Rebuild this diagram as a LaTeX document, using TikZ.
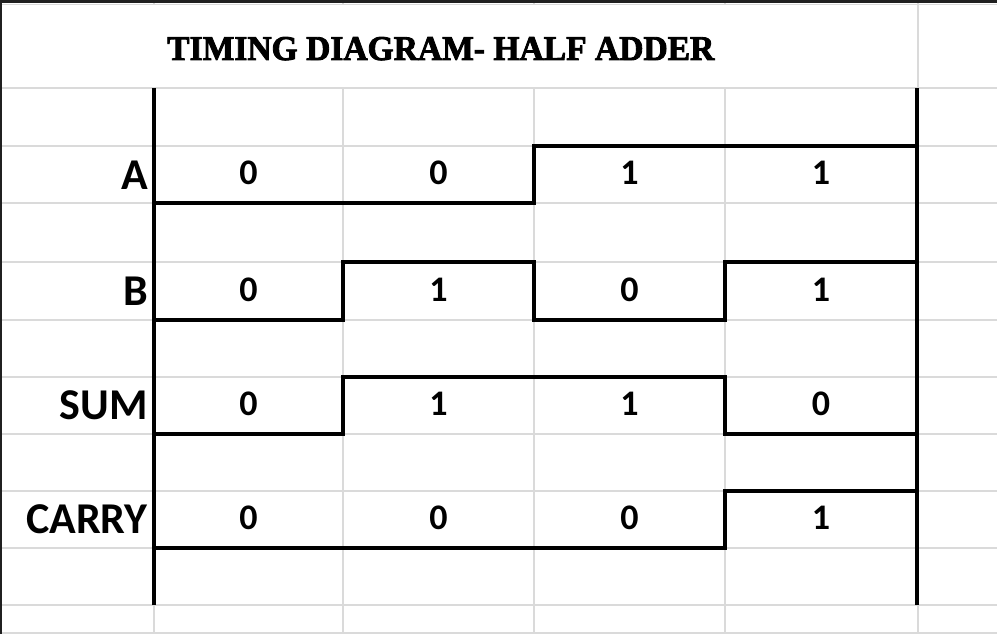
\documentclass[tikz,border=0pt]{standalone}
\usepackage{fontspec}
\setmainfont{Carlito}
\newfontfamily\titlefont{Liberation Serif}[FakeBold=2.5]
\definecolor{gridc}{RGB}{218,218,218}
\definecolor{edgec}{RGB}{32,32,32}
\tikzset{
  gridline/.style={draw=gridc, line width=1.2pt},
  wave/.style={draw=black, line width=3.2pt, line cap=rect, line join=miter},
  axisline/.style={draw=black, line width=3.2pt},
  sig/.style={anchor=base east, inner sep=0pt, font=\fontsize{44}{44}\selectfont\bfseries},
  bit/.style={anchor=base, inner sep=0pt, font=\fontsize{36}{36}\selectfont\bfseries}
}
\begin{document}
\begin{tikzpicture}[x=1pt,y=-1pt]
\useasboundingbox (0,0) rectangle (997,634);
\fill[white] (0,0) rectangle (997,634);
% spreadsheet grid
\foreach \yy in {88,146,203,262,320,377,434,491,548,605,633}
  \draw[gridline] (0,\yy) -- (997,\yy);
\draw[gridline] (0,4.5) -- (997,4.5);
\foreach \xx in {154,343,534,725,918}
  {\draw[gridline] (\xx,88) -- (\xx,634);
   \draw[gridline] (\xx,0) -- (\xx,5);}
\draw[gridline] (918,3) -- (918,88);
\fill[edgec] (0,0) rectangle (997,3);
\fill[edgec] (0,0) rectangle (1.5,634);
% title
\node[anchor=base west, inner sep=0pt] (title) at (167,60)
  {\resizebox{547pt}{23pt}{\titlefont\bfseries TIMING DIAGRAM- HALF ADDER}};
% axes
\draw[axisline] (154,88) -- (154,605);
\draw[axisline] (917,88) -- (917,605);
% waveforms
\draw[wave] (154,203) -- (534,203) -- (534,146) -- (917,146);
\draw[wave] (154,320) -- (343,320) -- (343,262) -- (534,262) -- (534,320) -- (725,320) -- (725,262) -- (917,262);
\draw[wave] (154,434) -- (343,434) -- (343,377) -- (725,377) -- (725,434) -- (917,434);
\draw[wave] (154,548) -- (725,548) -- (725,491) -- (917,491);
% signal labels
\node[sig] (lA) at (148,189) {A};
\node[sig] (lB) at (148,305) {B};
\node[sig] (lS) at (148,419) {SUM};
\node[sig] (lC) at (148,533) {CARRY};
% bits
\foreach \nm/\yy/\va/\vb/\vc/\vd in {a/184/0/0/1/1, b/301/0/1/0/1, s/415/0/1/1/0, c/529/0/0/0/1}{
  \node[bit] (\nm1) at (248.5,\yy) {\va};
  \node[bit] (\nm2) at (438.5,\yy) {\vb};
  \node[bit] (\nm3) at (629.5,\yy) {\vc};
  \node[bit] (\nm4) at (821,\yy) {\vd};
}
\end{tikzpicture}
\end{document}
